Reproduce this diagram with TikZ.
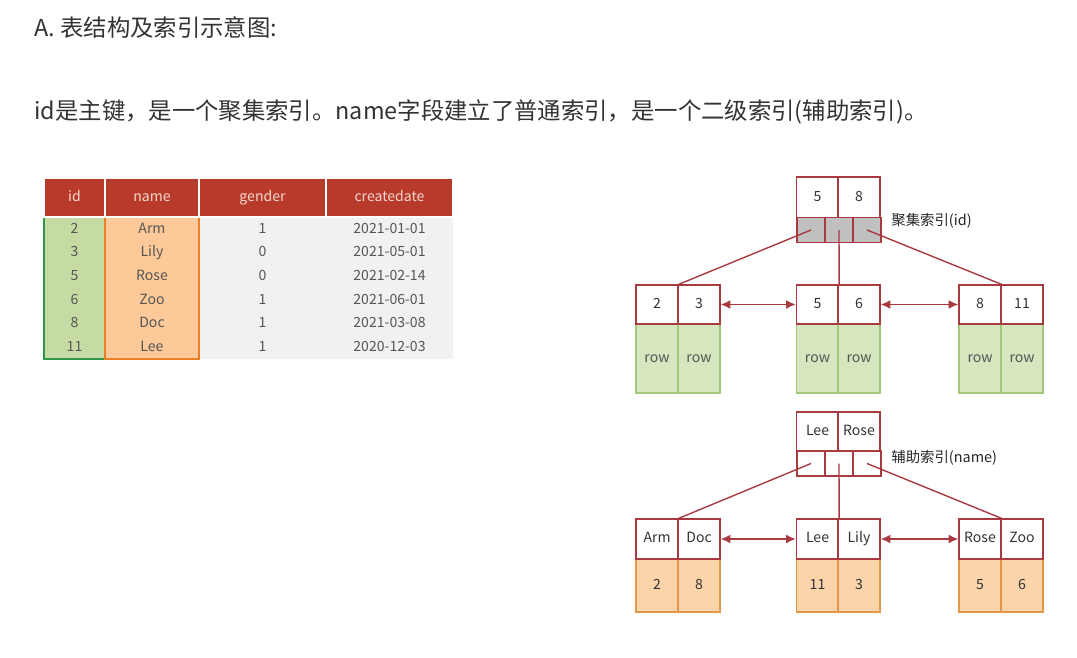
\documentclass[tikz,border=0pt]{standalone}
\usepackage{fontspec}
\setmainfont{Noto Sans CJK SC}
\usetikzlibrary{arrows.meta}

\definecolor{headred}{RGB}{183,58,42}
\definecolor{headtxt}{RGB}{245,215,205}
\definecolor{txtgray}{RGB}{85,85,85}
\definecolor{titlegray}{RGB}{51,51,51}
\definecolor{tablegray}{RGB}{241,241,241}
\definecolor{idfill}{RGB}{198,219,164}
\definecolor{idline}{RGB}{48,150,72}
\definecolor{namefill}{RGB}{253,201,152}
\definecolor{nameline}{RGB}{232,128,40}
\definecolor{treered}{RGB}{168,58,64}
\definecolor{ptrgray}{RGB}{192,192,192}
\definecolor{leafgreen}{RGB}{214,230,190}
\definecolor{leafgreenline}{RGB}{165,200,125}
\definecolor{leaforange}{RGB}{251,212,170}
\definecolor{leaforangeline}{RGB}{226,152,72}

\begin{document}
\begin{tikzpicture}[
    x=0.02cm, y=-0.02cm,
    >=Latex,
    every node/.style={font=\fontsize{8}{10}\selectfont, text=txtgray, inner sep=0pt, text height=6pt, text depth=1.5pt},
    head/.style={draw=white, line width=0.8pt, fill=headred, text=headtxt, minimum height=0.78cm},
    keycell/.style={draw=treered, line width=0.7pt, fill=white, minimum width=0.84cm, minimum height=0.78cm, text=black!80},
    ptrcell/.style={draw=treered, line width=0.7pt, minimum width=0.56cm, minimum height=0.49cm},
    rowcell/.style={draw=leafgreenline, line width=0.7pt, fill=leafgreen, minimum width=0.84cm, minimum height=1.38cm},
    valcell/.style={draw=leaforangeline, line width=0.7pt, fill=leaforange, minimum width=0.84cm, minimum height=1.06cm, text=black!80},
    link/.style={treered, line width=0.8pt},
    line/.style={{Latex[length=5.5pt,width=5pt]}-{Latex[length=5.5pt,width=5pt]}, treered, line width=0.9pt},
    tag/.style={anchor=west, font=\fontsize{8.2}{10}\selectfont, text=black!85},
    heading/.style={anchor=west, font=\fontsize{13.3}{16}\selectfont, text=titlegray, text height=10pt, text depth=3pt}
]
\useasboundingbox (0,0) rectangle (1077,658);

% Titles
\node[heading] (title) at (34,30) {A. 表结构及索引示意图:};
\node[heading] (intro) at (34,113) {id是主键，是一个聚集索引。name字段建立了普通索引，是一个二级索引(辅助索引)。};

% Table
\fill[tablegray] (199,217) rectangle (453,359);
\draw[idline, fill=idfill, line width=1.1pt] (44,217) rectangle (105,359);
\draw[nameline, fill=namefill, line width=1.1pt] (105,217) rectangle (199,359);

\node[head, minimum width=1.22cm] (hid) at (74.5,197.5) {id};
\node[head, minimum width=1.88cm] (hname) at (152,197.5) {name};
\node[head, minimum width=2.54cm] (hgender) at (262.5,197.5) {gender};
\node[head, minimum width=2.54cm] (hdate) at (389.5,197.5) {createdate};

\foreach \id/\nm/\gd/\dt [count=\k] in {2/Arm/1/2021-01-01, 3/Lily/0/2021-05-01, 5/Rose/0/2021-02-14,
    6/Zoo/1/2021-06-01, 8/Doc/1/2021-03-08, 11/Lee/1/2020-12-03} {
  \node (rid\k) at (74.5,205.5+23.7*\k) {\id};
  \node (rname\k) at (152,205.5+23.7*\k) {\nm};
  \node (rgender\k) at (262.5,205.5+23.7*\k) {\gd};
  \node (rdate\k) at (389.5,205.5+23.7*\k) {\dt};
}

% Clustered index (id)
\node[keycell, minimum height=0.82cm] (pkfive) at (817.5,197.5) {5};
\node[keycell, minimum height=0.82cm] (pkeight) at (859,197.5) {8};
\node[ptrcell, fill=ptrgray] (pkptra) at (811,230) {};
\node[ptrcell, fill=ptrgray] (pkptrb) at (839,230) {};
\node[ptrcell, fill=ptrgray] (pkptrc) at (867,230) {};
\node[tag] (pklabel) at (891,222) {聚集索引(id)};

\node[rowcell] (rowtwo) at (657,358.5) {row};
\node[rowcell] (rowthree) at (699,358.5) {row};
\node[rowcell] (rowfive) at (817.5,358.5) {row};
\node[rowcell] (rowsix) at (859,358.5) {row};
\node[rowcell] (roweight) at (980,358.5) {row};
\node[rowcell] (roweleven) at (1022,358.5) {row};

\node[keycell] (pktwo) at (657,304.5) {2};
\node[keycell] (pkthree) at (699,304.5) {3};
\node[keycell] (pkfiveleaf) at (817.5,304.5) {5};
\node[keycell] (pksix) at (859,304.5) {6};
\node[keycell] (pkeightleaf) at (980,304.5) {8};
\node[keycell] (pkeleven) at (1022,304.5) {11};

\draw[link] (pkptra.center) -- (pktwo.north east);
\draw[link] (pkptrb.center) -- (pkfiveleaf.north east);
\draw[link] (pkptrc.center) -- (pkeightleaf.north east);
\draw[line] (pkthree.east) -- (pkfiveleaf.west);
\draw[line] (pksix.east) -- (pkeightleaf.west);

% Secondary index (name)
\node[keycell] (idxlee) at (817.5,431.5) {Lee};
\node[keycell] (idxrose) at (859,431.5) {Rose};
\node[ptrcell, minimum height=0.5cm] (idxptra) at (811,463.5) {};
\node[ptrcell, minimum height=0.5cm] (idxptrb) at (839,463.5) {};
\node[ptrcell, minimum height=0.5cm] (idxptrc) at (867,463.5) {};
\node[tag] (idxlabel) at (891,459) {辅助索引(name)};

\node[valcell] (valarm) at (657,585.5) {2};
\node[valcell] (valdoc) at (699,585.5) {8};
\node[valcell] (vallee) at (817.5,585.5) {11};
\node[valcell] (vallily) at (859,585.5) {3};
\node[valcell] (valrose) at (980,585.5) {5};
\node[valcell] (valzoo) at (1022,585.5) {6};

\node[keycell, minimum height=0.8cm] (namearm) at (657,539) {Arm};
\node[keycell, minimum height=0.8cm] (namedoc) at (699,539) {Doc};
\node[keycell, minimum height=0.8cm] (namelee) at (817.5,539) {Lee};
\node[keycell, minimum height=0.8cm] (namelily) at (859,539) {Lily};
\node[keycell, minimum height=0.8cm] (namerose) at (980,539) {Rose};
\node[keycell, minimum height=0.8cm] (namezoo) at (1022,539) {Zoo};

\draw[link] (idxptra.center) -- (namearm.north east);
\draw[link] (idxptrb.center) -- (namelee.north east);
\draw[link] (idxptrc.center) -- (namerose.north east);
\draw[line] (namedoc.east) -- (namelee.west);
\draw[line] (namelily.east) -- (namerose.west);

\end{tikzpicture}
\end{document}
